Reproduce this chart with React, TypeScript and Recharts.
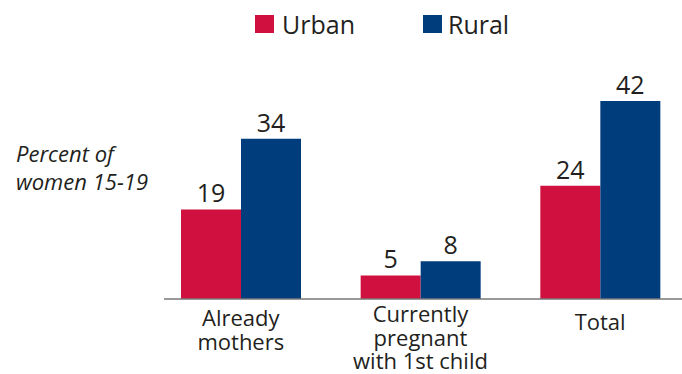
import React from "react";
import { BarChart, Bar, XAxis, YAxis, LabelList } from "recharts";

const categories = ["Already\nmothers", "Currently\npregnant\nwith 1st child", "Total"];
const seriesNames = ["Urban", "Rural"];
const urbanValues = [19, 5, 24];
const ruralValues = [34, 8, 42];
const yAxisLabel = ["Percent of", "women 15-19"];

const COLORS = ["#D0103F", "#003D7C"];
const TEXT = "#231F20";
const FONT = "'Open Sans', 'Noto Sans', sans-serif";

const data = categories.map((c, i) => ({
  name: c,
  urban: urbanValues[i],
  rural: ruralValues[i],
}));

const CategoryTick = (props: any) => {
  const { x, y, payload } = props;
  const lines = String(payload.value).split("\n");
  const n = lines.length;
  const first = y + 35 - 4 * n;
  return (
    <text textAnchor="middle" fill={TEXT} fontSize={22} fontFamily={FONT}>
      {lines.map((l, i) => (
        <tspan key={i} x={x} y={first + 23.5 * i}>
          {l}
        </tspan>
      ))}
    </text>
  );
};

const ValueLabel = (props: any) => {
  const { x, y, width, value } = props;
  return (
    <text
      x={x + width / 2}
      y={y - 7}
      textAnchor="middle"
      fill={TEXT}
      fontSize={25}
      fontFamily={FONT}
    >
      {value}
    </text>
  );
};

const YLabel = () => (
  <text fill={TEXT} fontSize={22} fontStyle="italic" fontFamily={FONT}>
    <tspan x={16} y={162}>
      {yAxisLabel[0]}
    </tspan>
    <tspan x={16} y={190}>
      {yAxisLabel[1]}
    </tspan>
  </text>
);

export default function App() {
  return (
    <div
      style={{
        position: "absolute",
        left: 0,
        top: 0,
        width: 682,
        height: 374,
        overflow: "hidden",
        background: "#fff",
      }}
    >
      <div
        style={{
          position: "absolute",
          top: 0,
          left: 0,
          width: 682,
          height: 50,
          fontFamily: FONT,
          fontSize: 25,
          color: TEXT,
        }}
      >
        {seriesNames.map((s, i) => (
          <div
            key={s}
            style={{
              position: "absolute",
              left: i === 0 ? 255 : 423,
              top: 8,
              display: "flex",
              alignItems: "center",
              height: 32,
            }}
          >
            <div
              style={{
                width: 19,
                height: 18,
                background: COLORS[i],
                marginRight: i === 0 ? 8 : 6,
              }}
            />
            <span style={{ lineHeight: "32px" }}>{s}</span>
          </div>
        ))}
      </div>
      <BarChart
        width={682}
        height={374}
        data={data}
        margin={{ top: 101, right: 0, bottom: 0, left: 0 }}
        barGap={0}
        barSize={60}
      >
        <XAxis
          dataKey="name"
          interval={0}
          height={75}
          tickLine={false}
          tickSize={0}
          tickMargin={0}
          axisLine={{ stroke: "#777", strokeWidth: 1.5 }}
          padding={{ left: -13, right: -8 }}
          tick={<CategoryTick />}
        />
        <YAxis
          width={164}
          domain={[0, 42]}
          axisLine={false}
          tickLine={false}
          tick={false}
          label={<YLabel />}
        />
        <Bar dataKey="urban" name={seriesNames[0]} fill={COLORS[0]} isAnimationActive={false}>
          <LabelList dataKey="urban" content={<ValueLabel />} />
        </Bar>
        <Bar dataKey="rural" name={seriesNames[1]} fill={COLORS[1]} isAnimationActive={false}>
          <LabelList dataKey="rural" content={<ValueLabel />} />
        </Bar>
      </BarChart>
    </div>
  );
}
